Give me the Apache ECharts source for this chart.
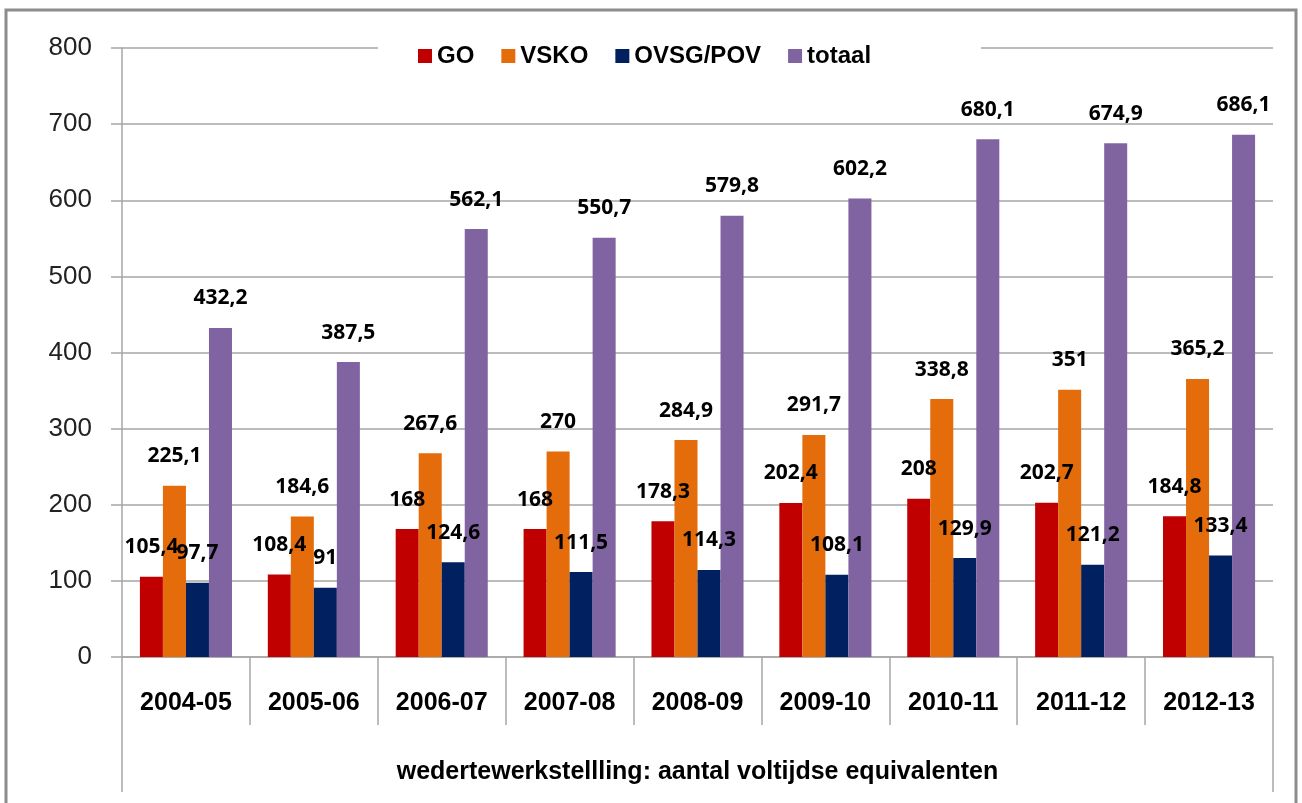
<!DOCTYPE html>
<html lang="nl">
<head>
    <meta charset="UTF-8">
    <title>Wedertewerkstelling</title>
    <script src="https://cdn.jsdelivr.net/npm/echarts@6/dist/echarts.min.js"></script>
    <style>
        * { margin: 0; padding: 0; box-sizing: border-box; }
        html, body { width: 1302px; height: 803px; background: #fff; overflow: hidden; }
        #chart { width: 1302px; height: 803px; }
    </style>
</head>
<body>
    <div id="chart"></div>
    <script>
        // schooljaren
        const categories = ['2004-05', '2005-06', '2006-07', '2007-08', '2008-09', '2009-10', '2010-11', '2011-12', '2012-13'];
        const seriesNames = ['GO', 'VSKO', 'OVSG/POV', 'totaal'];
        const goValues = [105.4, 108.4, 168, 168, 178.3, 202.4, 208, 202.7, 184.8];
        const vskoValues = [225.1, 184.6, 267.6, 270, 284.9, 291.7, 338.8, 351, 365.2];
        const ovsgValues = [97.7, 91, 124.6, 111.5, 114.3, 108.1, 129.9, 121.2, 133.4];
        const totaalValues = [432.2, 387.5, 562.1, 550.7, 579.8, 602.2, 680.1, 674.9, 686.1];
        const colors = ['#c00000', '#e46c0a', '#002060', '#8064a2'];
        const axisTitle = 'wedertewerkstellling: aantal voltijdse equivalenten';

        const sans = "'Liberation Sans', Arial, sans-serif";
        const lineColor = '#a6a6a6';

        const chart = echarts.init(document.getElementById('chart'));

        const makeSeries = (name, data, i) => ({
            name: name,
            type: 'bar',
            data: data,
            barGap: '0%',
            barCategoryGap: '28%',
            itemStyle: { color: colors[i] },
            label: {
                show: true,
                position: 'top',
                distance: 19,
                color: '#000',
                fontFamily: "'Open Sans', sans-serif",
                fontWeight: 'bold',
                fontSize: 21,
                formatter: p => String(p.value).replace('.', ',')
            }
        });

        chart.setOption({
            animation: false,
            color: colors,
            grid: { left: 122, right: 29, top: 48, bottom: 146 },
            legend: {
                data: seriesNames,
                left: 378,
                top: 40,
                padding: [4, 110, 4, 40],
                backgroundColor: '#fff',
                itemWidth: 14,
                itemHeight: 14,
                itemGap: 27,
                icon: 'rect',
                textStyle: { fontFamily: sans, fontWeight: 'bold', fontSize: 24, color: '#000' }
            },
            xAxis: [{
                type: 'category',
                data: categories,
                axisLine: { lineStyle: { color: lineColor, width: 1.5 } },
                axisTick: { show: true, interval: 0, length: 68, lineStyle: { color: lineColor, width: 1.5 } },
                axisLabel: { interval: 0, margin: 34, color: '#000', fontFamily: sans, fontWeight: 'bold', fontSize: 25 }
            }, {
                type: 'category',
                position: 'bottom',
                offset: 68,
                data: [axisTitle],
                axisLine: { show: false },
                axisTick: { show: true, interval: 0, length: 67, lineStyle: { color: lineColor, width: 1.5 } },
                axisLabel: { margin: 35, color: '#000', fontFamily: sans, fontWeight: 'bold', fontSize: 25 }
            }],
            yAxis: {
                type: 'value',
                min: 0,
                max: 800,
                interval: 100,
                axisLine: { show: true, lineStyle: { color: lineColor, width: 1.5 } },
                axisTick: { show: true, length: 11, lineStyle: { color: lineColor, width: 1.5 } },
                axisLabel: { margin: 30, color: '#222', fontFamily: sans, fontSize: 26 },
                splitLine: { lineStyle: { color: lineColor, width: 1.5 } }
            },
            graphic: [{
                type: 'rect',
                shape: { x: 6, y: 10, width: 1290, height: 820 },
                style: { fill: 'none', stroke: '#8c8c8c', lineWidth: 3 },
                z: 100
            }],
            series: [
                makeSeries(seriesNames[0], goValues, 0),
                makeSeries(seriesNames[1], vskoValues, 1),
                makeSeries(seriesNames[2], ovsgValues, 2),
                makeSeries(seriesNames[3], totaalValues, 3)
            ]
        });
    </script>
</body>
</html>
